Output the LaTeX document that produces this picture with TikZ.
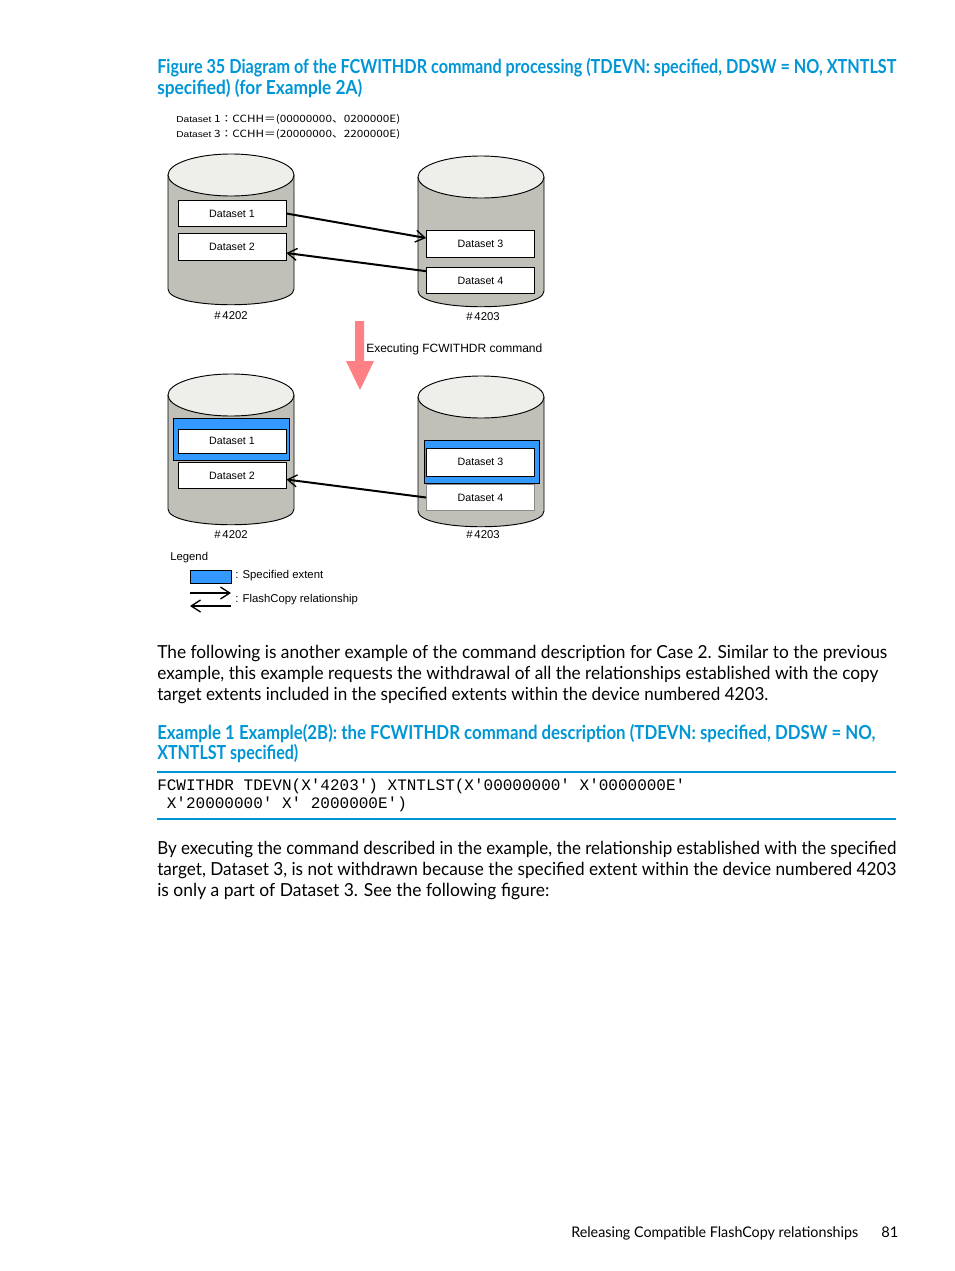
\documentclass[tikz,border=0pt]{standalone}
\usepackage{fontspec}
\setmainfont{Lato}
\setmonofont{Liberation Mono}
\newfontfamily\diafont{Liberation Sans}
\newfontfamily\cjkfont{Noto Sans CJK JP}
\usepackage{graphicx}
\usetikzlibrary{arrows.meta,positioning}

\definecolor{hpblue}{HTML}{0096D6}
\definecolor{extblue}{HTML}{3399FF}
\definecolor{drumgray}{HTML}{C0C0B8}
\definecolor{drumlid}{HTML}{EEEEEA}
\definecolor{cmdred}{HTML}{FF8084}

\newcommand{\fitw}[2]{\resizebox{#1}{\height}{#2}}
\newcommand{\tick}{\char39\relax}
% disk drum: #1 = centre x, #2 = y of the lid
\newcommand{\drum}[2]{%
  \fill[drumgray] ({#1-63},#2) -- ({#1-63},{#2+114})
    .. controls ({#1-63},{#2+135}) and ({#1+63},{#2+135}) .. ({#1+63},{#2+114})
    -- ({#1+63},#2) -- cycle;
  \draw[drumline] ({#1-63},#2) -- ({#1-63},{#2+114})
    .. controls ({#1-63},{#2+135}) and ({#1+63},{#2+135}) .. ({#1+63},{#2+114})
    -- ({#1+63},#2);
  \draw[drumline, fill=drumlid] (#1,#2) ellipse [x radius=63, y radius=21];
}

\tikzset{
  drumline/.style={line width=0.7pt},
  dsbox/.style={draw, line width=0.6pt, fill=white, minimum width=81pt,
    minimum height=20pt, inner sep=0pt, font=\diafont\fontsize{8}{9}\selectfont},
  extent/.style={draw, line width=0.6pt, fill=extblue, inner sep=0pt},
  fcrel/.style={line width=1.5pt,
    -{Straight Barb[length=7pt, width=9pt, line width=1pt]}},
  dialbl/.style={inner sep=0pt, font=\diafont\fontsize{8.5}{10}\selectfont},
  heading/.style={inner sep=0pt, anchor=base west, text=hpblue,
    font=\bfseries\fontsize{14.5}{17}\selectfont},
  bodyline/.style={inner sep=0pt, anchor=base west,
    font=\fontsize{13.5}{16}\selectfont},
  codeline/.style={inner sep=0pt, anchor=base west,
    font=\ttfamily\fontsize{12}{14}\selectfont},
  rule/.style={hpblue, line width=1.6pt}
}

\begin{document}
\begin{tikzpicture}[x=0.75pt, y=-0.75pt]
\useasboundingbox (0,0) rectangle (954,1271);

% caption
\node[heading] (cap1) at (157,73) {\fitw{554.25pt}{Figure 35 Diagram of the FCWITHDR command processing (TDEVN: specified, DDSW = NO, XTNTLST}};
\node[heading] (cap2) at (157,94) {\fitw{153.75pt}{specified) (for Example 2A)}};

% extents
\node[inner sep=0pt, anchor=base west] (ext1) at (176,122)
  {\fitw{168pt}{{\diafont\fontsize{6.5}{7}\selectfont Dataset }{\cjkfont\fontsize{7.5}{9}\selectfont 1：CCHH＝(00000000、0200000E)}}};
\node[inner sep=0pt, anchor=base west] (ext3) at (176,137)
  {\fitw{168pt}{{\diafont\fontsize{6.5}{7}\selectfont Dataset }{\cjkfont\fontsize{7.5}{9}\selectfont 3：CCHH＝(20000000、2200000E)}}};

% before
\drum{231}{175}
\drum{481}{177}
\node[dsbox] (ds1) at (232,213.5) {Dataset 1};
\node[dsbox] (ds2) at (232,247) {Dataset 2};
\node[dsbox] (ds3) at (480.5,244) {Dataset 3};
\node[dsbox] (ds4) at (480.5,280.5) {Dataset 4};
\node[dialbl] (vol1) at (231,316) {\#\,4202};
\node[dialbl] (vol2) at (483,317) {\#\,4203};
\draw[fcrel] (ds1.east) -- ([yshift=4.5pt]ds3.west);
\draw[fcrel] ([yshift=7pt]ds4.west) -- ([yshift=-4.5pt]ds2.east);

% command
\fill[cmdred] (355,321) -- (364,321) -- (364,361) -- (374,361) -- (360,390)
  -- (346,361) -- (355,361) -- cycle;
\node[dialbl, anchor=west, font=\diafont\fontsize{9}{10}\selectfont] (exec) at (366,349) {Executing FCWITHDR command};

% after
\drum{231}{395}
\drum{481}{397}
\node[extent, minimum width=87pt, minimum height=31.5pt] (sel1) at (231,439) {};
\node[extent, minimum width=86.25pt, minimum height=32.25pt] (sel3) at (481.5,461.5) {};
\node[dsbox, minimum height=18pt] (ds1b) at (232,441) {Dataset 1};
\node[dsbox] (ds2b) at (232,475.5) {Dataset 2};
\node[dsbox, minimum height=21pt] (ds3b) at (480.5,462) {Dataset 3};
\node[dsbox, draw=black!45] (ds4b) at (480.5,497.5) {Dataset 4};
\node[dialbl] (vol1b) at (231,535) {\#\,4202};
\node[dialbl] (vol2b) at (483,535) {\#\,4203};
\draw[fcrel] (ds4b.west) -- ([yshift=-3pt]ds2b.east);

% legend
\node[dialbl, anchor=west] (lgd) at (170,558) {Legend};
\node[extent, minimum width=30.75pt, minimum height=9.75pt] (lgext) at (210.5,576.5) {};
\node[dialbl, anchor=west] (lgextt) at (235,576) {: Specified extent};
\coordinate (lgA) at (190,593);
\coordinate (lgB) at (231,593);
\coordinate (lgC) at (231,606);
\coordinate (lgD) at (190,606);
\draw[fcrel] (lgA) -- (lgB);
\draw[fcrel] (lgC) -- (lgD);
\node[dialbl, anchor=west] (lgrelt) at (235,600) {: FlashCopy relationship};

% text
\node[bodyline] (p1a) at (157,658) {\fitw{547.5pt}{The following is another example of the command description for Case 2. Similar to the previous}};
\node[bodyline] (p1b) at (157,679) {\fitw{540.75pt}{example, this example requests the withdrawal of all the relationships established with the copy}};
\node[bodyline] (p1c) at (157,700) {\fitw{458.25pt}{target extents included in the specified extents within the device numbered 4203.}};

\node[heading] (ex1) at (157,739) {\fitw{538.5pt}{Example 1 Example(2B): the FCWITHDR command description (TDEVN: specified, DDSW = NO,}};
\node[heading] (ex2) at (157,759) {\fitw{105.75pt}{XTNTLST specified)}};

\draw[rule] (157,772) -- (896,772);
\node[codeline] (cmd1) at (157,790) {FCWITHDR TDEVN(X\tick4203\tick) XTNTLST(X\tick00000000\tick\ X\tick0000000E\tick};
\node[codeline] (cmd2) at (157,808) {\ X\tick20000000\tick\ X\tick\ 2000000E\tick)};
\draw[rule] (157,819) -- (896,819);

\node[bodyline] (p2a) at (157,854) {\fitw{554.25pt}{By executing the command described in the example, the relationship established with the specified}};
\node[bodyline] (p2b) at (157,875) {\fitw{554.25pt}{target, Dataset 3, is not withdrawn because the specified extent within the device numbered 4203}};
\node[bodyline] (p2c) at (157,896) {\fitw{294pt}{is only a part of Dataset 3. See the following figure:}};

% footer
\node[bodyline, font=\fontsize{11}{13}\selectfont] (foot) at (571,1237) {\fitw{215.25pt}{Releasing Compatible FlashCopy relationships}};
\node[bodyline, font=\fontsize{11}{13}\selectfont] (pg) at (881,1237) {81};
\end{tikzpicture}
\end{document}
